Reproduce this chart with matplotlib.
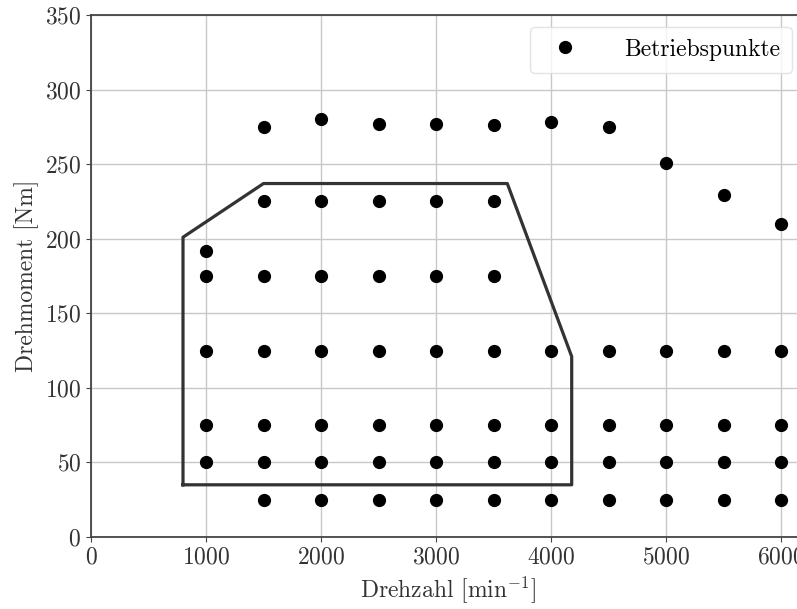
import matplotlib
matplotlib.use("Agg")
import matplotlib.pyplot as plt

plt.rcParams['font.family'] = 'serif'
plt.rcParams['font.serif'] = ['cmr10']
plt.rcParams['mathtext.fontset'] = 'cm'
plt.rcParams['axes.formatter.use_mathtext'] = True
plt.rcParams['font.size'] = 17

# Betriebspunkte (operating points)
speed = [1500, 2000, 2500, 3000, 3500, 4000, 4500, 5000, 5500, 6000,
         1500, 2000, 2500, 3000, 3500,
         1000,
         1000, 1500, 2000, 2500, 3000, 3500,
         1000, 1500, 2000, 2500, 3000, 3500, 4000, 4500, 5000, 5500, 6000,
         1000, 1500, 2000, 2500, 3000, 3500, 4000, 4500, 5000, 5500, 6000,
         1000, 1500, 2000, 2500, 3000, 3500, 4000, 4500, 5000, 5500, 6000,
         1500, 2000, 2500, 3000, 3500, 4000, 4500, 5000, 5500, 6000]
torque = [275, 280, 277, 277, 276, 278, 275, 251, 229, 210,
          225, 225, 225, 225, 225,
          192,
          175, 175, 175, 175, 175, 175,
          125, 125, 125, 125, 125, 125, 125, 125, 125, 125, 125,
          75, 75, 75, 75, 75, 75, 75, 75, 75, 75, 75,
          50, 50, 50, 50, 50, 50, 50, 50, 50, 50, 50,
          25, 25, 25, 25, 25, 25, 25, 25, 25, 25]

# Boundary polygon
poly_speed = [800, 800, 1500, 3620, 4180, 4180, 800]
poly_torque = [35, 201, 237, 237, 121, 35, 35]

fig = plt.figure(figsize=(7.97, 6.09), dpi=100)
ax = fig.add_axes([91/797, 72/609, 713/797, 522/609])

ax.grid(True, color='#c8c8c8', linewidth=1.0)
ax.set_axisbelow(True)
ax.plot(poly_speed, poly_torque, color='#333333', linewidth=2.3, zorder=2)
ax.plot(speed, torque, 'o', color='black', markersize=8.5, linestyle='none',
        label='Betriebspunkte', zorder=3)

ax.set_xlim(0, 6200)
ax.set_ylim(0, 350)
ax.set_xticks([0, 1000, 2000, 3000, 4000, 5000, 6000])
ax.set_yticks([0, 50, 100, 150, 200, 250, 300, 350])
for s in ax.spines.values():
    s.set_color('#444444')
    s.set_linewidth(1.3)
ax.tick_params(colors='#444444', labelcolor='#333333')

ax.set_xlabel(r'Drehzahl [min$^{-1}$]', color='#333333', labelpad=4)
ax.set_ylabel('Drehmoment [Nm]', color='#333333')

ax.legend(loc='upper right', frameon=True, fancybox=True, framealpha=0.8,
          edgecolor='#dddddd', handletextpad=1.5, borderpad=0.5)

fig.savefig('out.png', dpi=100)
